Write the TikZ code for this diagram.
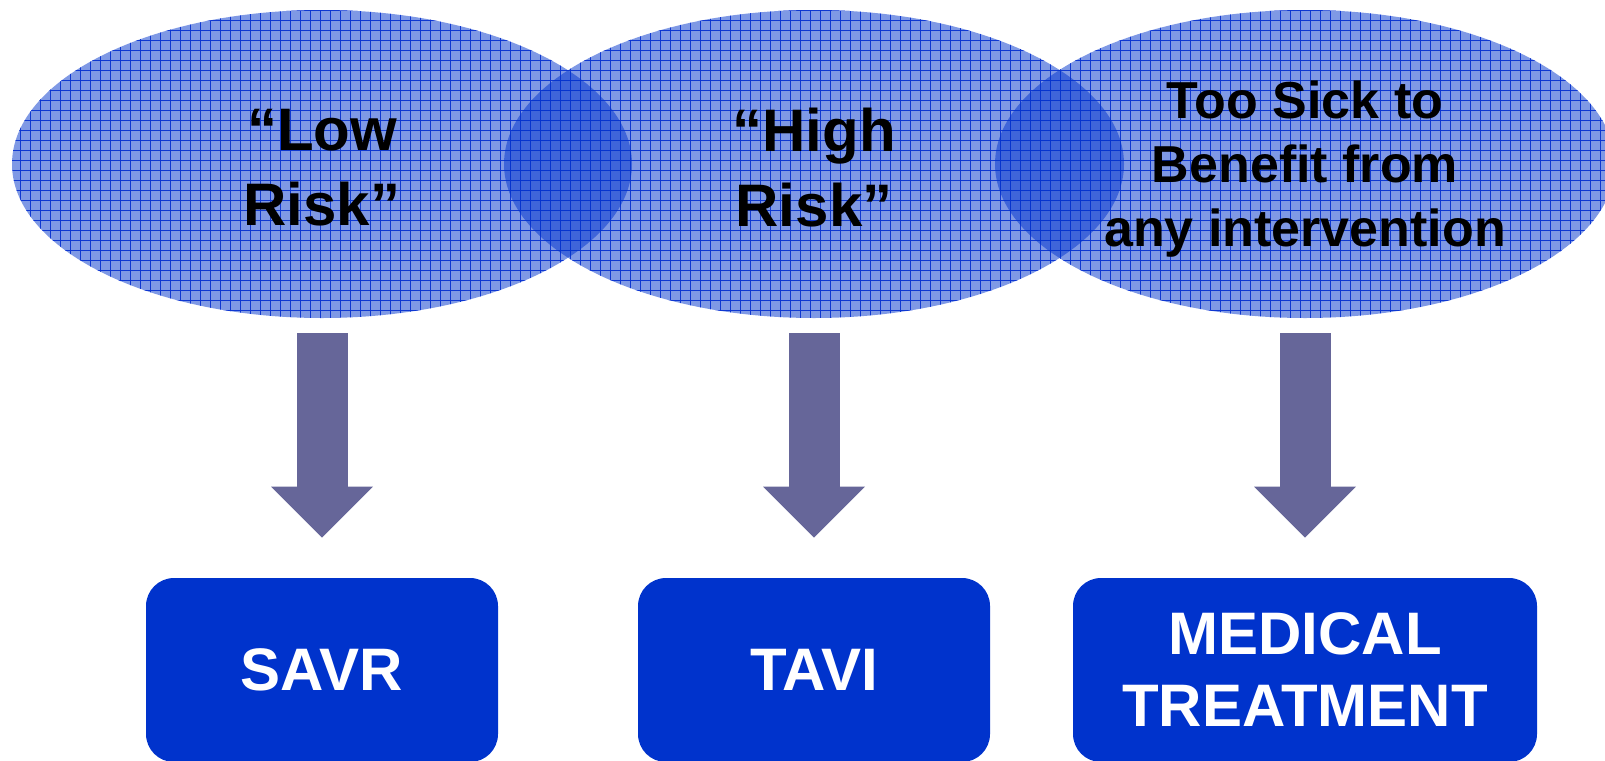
\documentclass[tikz,border=0pt]{standalone}
\usepackage{fontspec}
\setmainfont{Liberation Sans}
\usetikzlibrary{shapes.geometric,arrows.meta,backgrounds}
\definecolor{boxblue}{RGB}{0,51,204}
\definecolor{arrowgray}{RGB}{102,102,153}
\definecolor{gridblue}{RGB}{30,60,215}
\begin{document}
\begin{tikzpicture}[x=0.5pt,y=-0.5pt,
		riskzone/.style={ellipse,minimum width=310pt,minimum height=154pt,inner sep=0pt,
			fill=boxblue,fill opacity=0.5},
		risktext/.style={align=center,inner sep=0pt,font=\bfseries\fontsize{30}{37.5}\selectfont},
		therapy/.style={rectangle,rounded corners=14pt,minimum width=176pt,minimum height=92pt,
			fill=boxblue,text=white,align=center,font=\bfseries\fontsize{30}{36}\selectfont},
		flow/.style={draw=arrowgray,line width=25.5pt,
			-{Triangle[width=51pt,length=25.5pt,line width=0pt]},shorten <=7.5pt,shorten >=20pt}]
		
		\useasboundingbox (0,0) rectangle (1605,760);
		
		%Risk groups
		\node[riskzone] (low) at (322,164) {};
		\node[riskzone] (high) at (814,164) {};
		\node[riskzone] (sick) at (1305,164) {};
		
		\node[risktext] (lowtext) at ([yshift=-2pt]low) {“Low\\Risk”};
		\node[risktext] (hightext) at ([yshift=-2pt]high) {“High\\Risk”};
		\node[risktext,font=\bfseries\fontsize{26}{32}\selectfont] (sicktext) at ([yshift=-2.5pt]sick) 
		{Too Sick to\\Benefit from\\any intervention};
		
		%Grid texture behind the groups
		\begin{scope}[on background layer]
			\clip (low.center) ellipse [x radius=155pt,y radius=77pt]
				(high.center) ellipse [x radius=155pt,y radius=77pt]
				(sick.center) ellipse [x radius=155pt,y radius=77pt];
			\draw[draw=gridblue,line width=0.5pt] (0,0) grid[step=5pt] (1605,340);
		\end{scope}
		
		%Treatments
		\node[therapy] (savr) at (322,670) {SAVR};
		\node[therapy] (tavi) at (814,670) {TAVI};
		\node[therapy,minimum width=232pt] (medical) at (1305,670) {MEDICAL\\TREATMENT};
		
		%Arrows
		\draw[flow] (low) -- (savr);
		\draw[flow] (high) -- (tavi);
		\draw[flow] (sick) -- (medical);
		
\end{tikzpicture}
\end{document}
